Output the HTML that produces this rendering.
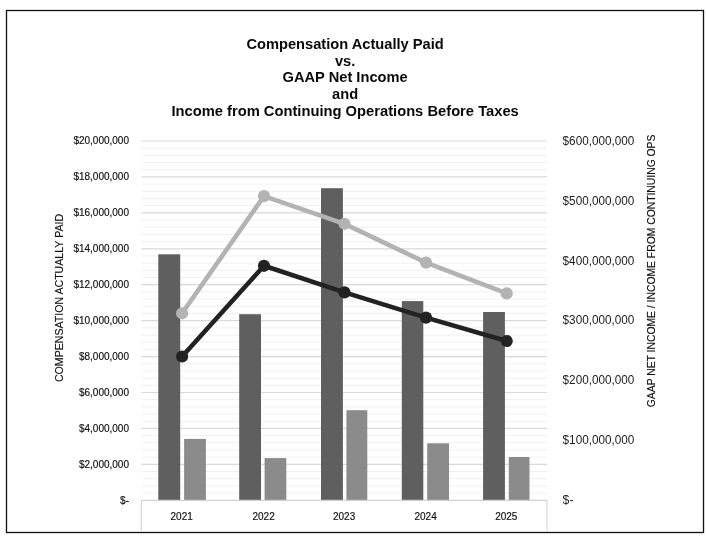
<!DOCTYPE html>
<html lang="en"><head><meta charset="utf-8"><title>Compensation Actually Paid vs. GAAP Net Income</title>
<style>html,body{margin:0;padding:0;background:#fff;}svg{display:block;}text{font-family:"Liberation Sans", Arial, sans-serif;}.s{fill:#111;stroke:#111;stroke-width:0.16px;}</style>
</head><body>
<svg width="706" height="542" viewBox="0 0 706 542">
<rect x="0" y="0" width="706" height="542" fill="#ffffff"/>
<rect x="6.5" y="10.5" width="697" height="522" fill="none" stroke="#111111" stroke-width="1.3"/>
<line x1="141.3" y1="141.00" x2="547.0" y2="141.00" stroke="#d9d9d9" stroke-width="1.2"/>
<line x1="141.3" y1="148.19" x2="547.0" y2="148.19" stroke="#f0f0f0" stroke-width="1"/>
<line x1="141.3" y1="155.37" x2="547.0" y2="155.37" stroke="#f0f0f0" stroke-width="1"/>
<line x1="141.3" y1="162.56" x2="547.0" y2="162.56" stroke="#f0f0f0" stroke-width="1"/>
<line x1="141.3" y1="169.74" x2="547.0" y2="169.74" stroke="#f0f0f0" stroke-width="1"/>
<line x1="141.3" y1="176.93" x2="547.0" y2="176.93" stroke="#d9d9d9" stroke-width="1.2"/>
<line x1="141.3" y1="184.12" x2="547.0" y2="184.12" stroke="#f0f0f0" stroke-width="1"/>
<line x1="141.3" y1="191.30" x2="547.0" y2="191.30" stroke="#f0f0f0" stroke-width="1"/>
<line x1="141.3" y1="198.49" x2="547.0" y2="198.49" stroke="#f0f0f0" stroke-width="1"/>
<line x1="141.3" y1="205.67" x2="547.0" y2="205.67" stroke="#f0f0f0" stroke-width="1"/>
<line x1="141.3" y1="212.86" x2="547.0" y2="212.86" stroke="#d9d9d9" stroke-width="1.2"/>
<line x1="141.3" y1="220.05" x2="547.0" y2="220.05" stroke="#f0f0f0" stroke-width="1"/>
<line x1="141.3" y1="227.23" x2="547.0" y2="227.23" stroke="#f0f0f0" stroke-width="1"/>
<line x1="141.3" y1="234.42" x2="547.0" y2="234.42" stroke="#f0f0f0" stroke-width="1"/>
<line x1="141.3" y1="241.60" x2="547.0" y2="241.60" stroke="#f0f0f0" stroke-width="1"/>
<line x1="141.3" y1="248.79" x2="547.0" y2="248.79" stroke="#d9d9d9" stroke-width="1.2"/>
<line x1="141.3" y1="255.98" x2="547.0" y2="255.98" stroke="#f0f0f0" stroke-width="1"/>
<line x1="141.3" y1="263.16" x2="547.0" y2="263.16" stroke="#f0f0f0" stroke-width="1"/>
<line x1="141.3" y1="270.35" x2="547.0" y2="270.35" stroke="#f0f0f0" stroke-width="1"/>
<line x1="141.3" y1="277.53" x2="547.0" y2="277.53" stroke="#f0f0f0" stroke-width="1"/>
<line x1="141.3" y1="284.72" x2="547.0" y2="284.72" stroke="#d9d9d9" stroke-width="1.2"/>
<line x1="141.3" y1="291.91" x2="547.0" y2="291.91" stroke="#f0f0f0" stroke-width="1"/>
<line x1="141.3" y1="299.09" x2="547.0" y2="299.09" stroke="#f0f0f0" stroke-width="1"/>
<line x1="141.3" y1="306.28" x2="547.0" y2="306.28" stroke="#f0f0f0" stroke-width="1"/>
<line x1="141.3" y1="313.46" x2="547.0" y2="313.46" stroke="#f0f0f0" stroke-width="1"/>
<line x1="141.3" y1="320.65" x2="547.0" y2="320.65" stroke="#d9d9d9" stroke-width="1.2"/>
<line x1="141.3" y1="327.84" x2="547.0" y2="327.84" stroke="#f0f0f0" stroke-width="1"/>
<line x1="141.3" y1="335.02" x2="547.0" y2="335.02" stroke="#f0f0f0" stroke-width="1"/>
<line x1="141.3" y1="342.21" x2="547.0" y2="342.21" stroke="#f0f0f0" stroke-width="1"/>
<line x1="141.3" y1="349.39" x2="547.0" y2="349.39" stroke="#f0f0f0" stroke-width="1"/>
<line x1="141.3" y1="356.58" x2="547.0" y2="356.58" stroke="#d9d9d9" stroke-width="1.2"/>
<line x1="141.3" y1="363.77" x2="547.0" y2="363.77" stroke="#f0f0f0" stroke-width="1"/>
<line x1="141.3" y1="370.95" x2="547.0" y2="370.95" stroke="#f0f0f0" stroke-width="1"/>
<line x1="141.3" y1="378.14" x2="547.0" y2="378.14" stroke="#f0f0f0" stroke-width="1"/>
<line x1="141.3" y1="385.32" x2="547.0" y2="385.32" stroke="#f0f0f0" stroke-width="1"/>
<line x1="141.3" y1="392.51" x2="547.0" y2="392.51" stroke="#d9d9d9" stroke-width="1.2"/>
<line x1="141.3" y1="399.70" x2="547.0" y2="399.70" stroke="#f0f0f0" stroke-width="1"/>
<line x1="141.3" y1="406.88" x2="547.0" y2="406.88" stroke="#f0f0f0" stroke-width="1"/>
<line x1="141.3" y1="414.07" x2="547.0" y2="414.07" stroke="#f0f0f0" stroke-width="1"/>
<line x1="141.3" y1="421.25" x2="547.0" y2="421.25" stroke="#f0f0f0" stroke-width="1"/>
<line x1="141.3" y1="428.44" x2="547.0" y2="428.44" stroke="#d9d9d9" stroke-width="1.2"/>
<line x1="141.3" y1="435.63" x2="547.0" y2="435.63" stroke="#f0f0f0" stroke-width="1"/>
<line x1="141.3" y1="442.81" x2="547.0" y2="442.81" stroke="#f0f0f0" stroke-width="1"/>
<line x1="141.3" y1="450.00" x2="547.0" y2="450.00" stroke="#f0f0f0" stroke-width="1"/>
<line x1="141.3" y1="457.18" x2="547.0" y2="457.18" stroke="#f0f0f0" stroke-width="1"/>
<line x1="141.3" y1="464.37" x2="547.0" y2="464.37" stroke="#d9d9d9" stroke-width="1.2"/>
<line x1="141.3" y1="471.56" x2="547.0" y2="471.56" stroke="#f0f0f0" stroke-width="1"/>
<line x1="141.3" y1="478.74" x2="547.0" y2="478.74" stroke="#f0f0f0" stroke-width="1"/>
<line x1="141.3" y1="485.93" x2="547.0" y2="485.93" stroke="#f0f0f0" stroke-width="1"/>
<line x1="141.3" y1="493.11" x2="547.0" y2="493.11" stroke="#f0f0f0" stroke-width="1"/>
<rect x="158.30" y="254.30" width="21.90" height="246.00" fill="#5f5f5f"/>
<rect x="184.10" y="438.90" width="21.80" height="61.40" fill="#8b8b8b"/>
<rect x="239.20" y="314.20" width="21.80" height="186.10" fill="#5f5f5f"/>
<rect x="264.60" y="458.10" width="21.70" height="42.20" fill="#8b8b8b"/>
<rect x="321.00" y="188.20" width="21.90" height="312.10" fill="#5f5f5f"/>
<rect x="346.40" y="410.20" width="20.90" height="90.10" fill="#8b8b8b"/>
<rect x="401.80" y="301.10" width="21.50" height="199.20" fill="#5f5f5f"/>
<rect x="427.20" y="443.30" width="21.80" height="57.00" fill="#8b8b8b"/>
<rect x="483.10" y="312.00" width="21.80" height="188.30" fill="#5f5f5f"/>
<rect x="508.80" y="457.00" width="20.70" height="43.30" fill="#8b8b8b"/>
<line x1="141.3" y1="500.30" x2="547.0" y2="500.30" stroke="#d0d0d0" stroke-width="1.2"/>
<line x1="141.3" y1="500.30" x2="141.3" y2="531.5" stroke="#d4d4d4" stroke-width="1.1"/>
<line x1="547.0" y1="500.30" x2="547.0" y2="531.5" stroke="#d4d4d4" stroke-width="1.1"/>
<polyline points="182.1,313.3 264.0,196.1 344.5,223.8 426.0,262.6 506.7,293.4" fill="none" stroke="#b3b3b3" stroke-width="4.6" stroke-linejoin="round" stroke-linecap="round"/>
<circle cx="182.1" cy="313.3" r="6.1" fill="#b3b3b3"/>
<circle cx="264.0" cy="196.1" r="6.1" fill="#b3b3b3"/>
<circle cx="344.5" cy="223.8" r="6.1" fill="#b3b3b3"/>
<circle cx="426.0" cy="262.6" r="6.1" fill="#b3b3b3"/>
<circle cx="506.7" cy="293.4" r="6.1" fill="#b3b3b3"/>
<polyline points="182.1,356.5 264.0,265.8 344.5,292.4 426.0,317.6 506.7,341.0" fill="none" stroke="#222222" stroke-width="4.6" stroke-linejoin="round" stroke-linecap="round"/>
<circle cx="182.1" cy="356.5" r="6.1" fill="#222222"/>
<circle cx="264.0" cy="265.8" r="6.1" fill="#222222"/>
<circle cx="344.5" cy="292.4" r="6.1" fill="#222222"/>
<circle cx="426.0" cy="317.6" r="6.1" fill="#222222"/>
<circle cx="506.7" cy="341.0" r="6.1" fill="#222222"/>
<text x="345.1" y="48.8" text-anchor="middle" font-size="15.3" font-weight="bold" fill="#0a0a0a" textLength="197.4" lengthAdjust="spacingAndGlyphs">Compensation Actually Paid</text>
<text x="345.1" y="65.6" text-anchor="middle" font-size="15.3" font-weight="bold" fill="#0a0a0a" textLength="20.4" lengthAdjust="spacingAndGlyphs">vs.</text>
<text x="345.1" y="82.4" text-anchor="middle" font-size="15.3" font-weight="bold" fill="#0a0a0a" textLength="125.2" lengthAdjust="spacingAndGlyphs">GAAP Net Income</text>
<text x="345.1" y="99.2" text-anchor="middle" font-size="15.3" font-weight="bold" fill="#0a0a0a" textLength="26.0" lengthAdjust="spacingAndGlyphs">and</text>
<text x="345.1" y="116.0" text-anchor="middle" font-size="15.3" font-weight="bold" fill="#0a0a0a" textLength="347.4" lengthAdjust="spacingAndGlyphs">Income from Continuing Operations Before Taxes</text>
<text x="129" y="144.2" text-anchor="end" font-size="10" class="s">$20,000,000</text>
<text x="129" y="180.1" text-anchor="end" font-size="10" class="s">$18,000,000</text>
<text x="129" y="216.1" text-anchor="end" font-size="10" class="s">$16,000,000</text>
<text x="129" y="252.0" text-anchor="end" font-size="10" class="s">$14,000,000</text>
<text x="129" y="287.9" text-anchor="end" font-size="10" class="s">$12,000,000</text>
<text x="129" y="323.8" text-anchor="end" font-size="10" class="s">$10,000,000</text>
<text x="129" y="359.8" text-anchor="end" font-size="10" class="s">$8,000,000</text>
<text x="129" y="395.7" text-anchor="end" font-size="10" class="s">$6,000,000</text>
<text x="129" y="431.6" text-anchor="end" font-size="10" class="s">$4,000,000</text>
<text x="129" y="467.6" text-anchor="end" font-size="10" class="s">$2,000,000</text>
<text x="129" y="503.5" text-anchor="end" font-size="10" class="s">$-</text>
<text x="562.6" y="144.7" font-size="12.3" fill="#1c1c1c" textLength="71.8" lengthAdjust="spacingAndGlyphs">$600,000,000</text>
<text x="562.6" y="204.6" font-size="12.3" fill="#1c1c1c" textLength="71.8" lengthAdjust="spacingAndGlyphs">$500,000,000</text>
<text x="562.6" y="264.5" font-size="12.3" fill="#1c1c1c" textLength="71.8" lengthAdjust="spacingAndGlyphs">$400,000,000</text>
<text x="562.6" y="324.3" font-size="12.3" fill="#1c1c1c" textLength="71.8" lengthAdjust="spacingAndGlyphs">$300,000,000</text>
<text x="562.6" y="384.2" font-size="12.3" fill="#1c1c1c" textLength="71.8" lengthAdjust="spacingAndGlyphs">$200,000,000</text>
<text x="562.6" y="444.1" font-size="12.3" fill="#1c1c1c" textLength="71.8" lengthAdjust="spacingAndGlyphs">$100,000,000</text>
<text x="562.6" y="504.0" font-size="12.3" fill="#1c1c1c">$-</text>
<text x="181.7" y="519.8" text-anchor="middle" font-size="10" class="s">2021</text>
<text x="263.6" y="519.8" text-anchor="middle" font-size="10" class="s">2022</text>
<text x="344.1" y="519.8" text-anchor="middle" font-size="10" class="s">2023</text>
<text x="425.6" y="519.8" text-anchor="middle" font-size="10" class="s">2024</text>
<text x="506.3" y="519.8" text-anchor="middle" font-size="10" class="s">2025</text>
<text transform="translate(62.6 298) rotate(-90)" text-anchor="middle" font-size="10.6" class="s">COMPENSATION ACTUALLY PAID</text>
<text transform="translate(655 270.9) rotate(-90)" text-anchor="middle" font-size="10.6" textLength="272.6" lengthAdjust="spacingAndGlyphs" class="s">GAAP NET INCOME / INCOME FROM CONTINUING OPS</text>
</svg>
</body></html>
